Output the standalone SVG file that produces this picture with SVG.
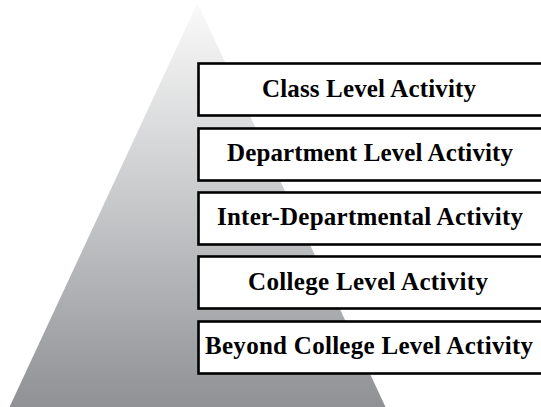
<svg xmlns="http://www.w3.org/2000/svg" width="541" height="407" viewBox="0 0 541 407">
<defs>
<linearGradient id="g" x1="0" y1="0" x2="0" y2="1">
<stop offset="0" stop-color="#fafafa"/>
<stop offset="0.5" stop-color="#c7c8ca"/>
<stop offset="1" stop-color="#8f9194"/>
</linearGradient>
<style>
.box{fill:#ffffff;stroke:#000000;stroke-width:2.6}
.lbl{font-family:"Liberation Serif","Times New Roman",serif;font-weight:bold;font-size:25px;fill:#000000;text-anchor:middle}
</style>
</defs>
<rect width="541" height="407" fill="#ffffff"/>
<polygon points="197.5,3 385.5,407 9.5,407" fill="url(#g)"/>
<g id="n1"><rect class="box" x="198.5" y="63.5" width="350" height="52"/><text class="lbl" x="369" y="97" textLength="214">Class Level Activity</text></g>
<g id="n2"><rect class="box" x="198.5" y="128.5" width="350" height="52"/><text class="lbl" x="370" y="161" textLength="286">Department Level Activity</text></g>
<g id="n3"><rect class="box" x="198.5" y="192.5" width="350" height="52"/><text class="lbl" x="370" y="225" textLength="306">Inter-Departmental Activity</text></g>
<g id="n4"><rect class="box" x="198.5" y="256.5" width="350" height="52"/><text class="lbl" x="368" y="290" textLength="240">College Level Activity</text></g>
<g id="n5"><rect class="box" x="198.5" y="321.5" width="350" height="52"/><text class="lbl" x="369" y="354" textLength="328">Beyond College Level Activity</text></g>
<g id="connectors"></g>
</svg>
